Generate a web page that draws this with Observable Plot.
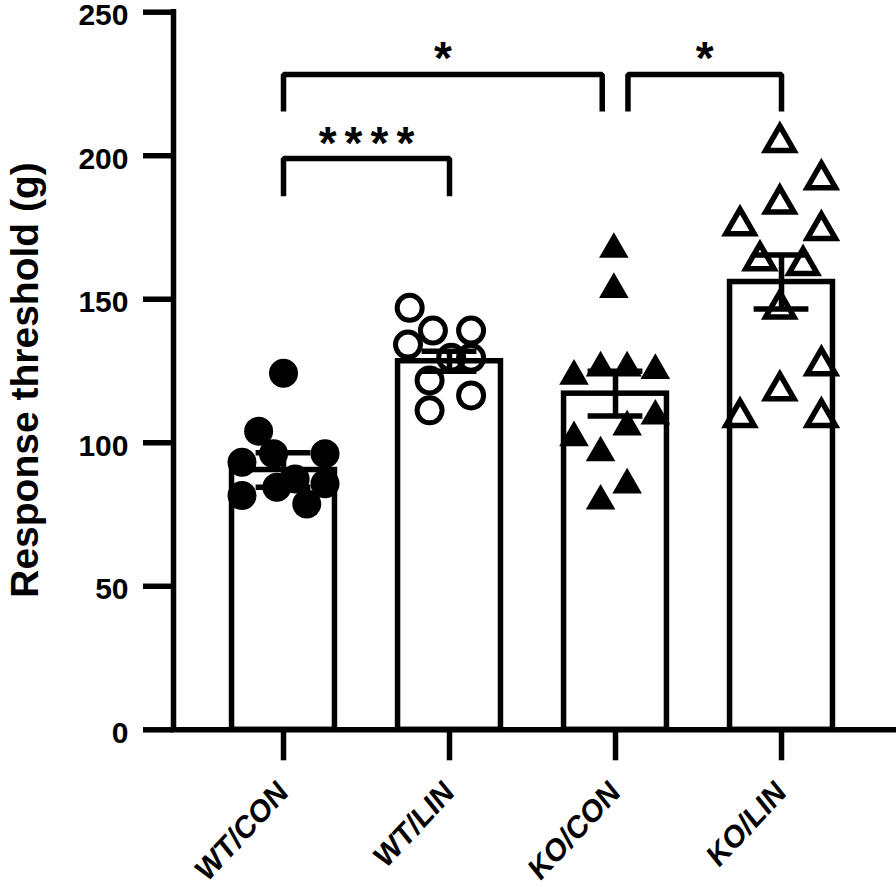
<!DOCTYPE html>
<html><head><meta charset="utf-8">
<script src="https://cdn.jsdelivr.net/npm/d3@7"></script>
<script src="https://cdn.jsdelivr.net/npm/@observablehq/plot@0.6"></script>
<style>
html,body{margin:0;padding:0;background:#fff;}
#chart svg{display:block;}
</style></head><body><div id="chart"></div>
<script>
// ---- data ----
const categories = ["WT/CON", "WT/LIN", "KO/CON", "KO/LIN"];
const means = [90.5, 128.4, 117.1, 156.0];
const sems  = [6.0, 3.5, 7.8, 9.4];
const yTicks = [0, 50, 100, 150, 200, 250];

const wtConValues = [124.2, 104.0, 93.2, 96.2, 96.2, 84.5, 81.6, 78.7, 85.7, 87.4];
const wtConJitter = [0, -0.15, -0.25, -0.06, 0.25, -0.04, -0.25, 0.14, 0.25, 0.07];
const wtLinValues = [147.0, 139.1, 139.1, 134.2, 129.6, 129.6, 121.7, 116.5, 111.3];
const wtLinJitter = [-0.24, -0.10, 0.13, -0.25, 0.01, 0.13, -0.12, 0.13, -0.12];
const koConValues = [167.4, 153.4, 123.2, 126.1, 126.1, 125.2, 109.3, 105.5, 101.8, 96.5, 85.3, 79.7];
const koConJitter = [-0.01, -0.01, -0.25, -0.09, 0.07, 0.24, 0.24, 0.07, -0.25, -0.09, 0.07, -0.09];
const koLinValues = [204.7, 191.7, 183.2, 175.7, 174.0, 163.5, 161.8, 146.7, 126.9, 118.2, 108.9, 108.9];
const koLinJitter = [-0.01, 0.24, -0.01, -0.25, 0.24, -0.13, 0.13, -0.01, 0.24, -0.01, -0.25, 0.24];

const bracketFrom  = [0, 2.075, 0];
const bracketTo    = [1.92, 3, 1];
const bracketTop   = [228.3, 228.3, 199.0];
const bracketLeg   = [215.4, 215.4, 185.9];
const bracketLabel = ["*", "*", "****"];

// ---- build tables ----
const idx = categories.map((_, i) => i);
const bars = idx.map(i => ({i, mean: means[i], sem: sems[i]}));
const mk = (i, vals, jit) => vals.map((v, k) => ({i, v, j: jit[k]}));
const ptsWtCon = mk(0, wtConValues, wtConJitter);
const ptsWtLin = mk(1, wtLinValues, wtLinJitter);
const ptsKoCon = mk(2, koConValues, koConJitter);
const ptsKoLin = mk(3, koLinValues, koLinJitter);
const brackets = bracketLabel.map((label, k) => ({k, from: bracketFrom[k], to: bracketTo[k], top: bracketTop[k], leg: bracketLeg[k], label}));
const bracketPath = brackets.flatMap(b => [
  {k: b.k, x: b.from, y: b.leg}, {k: b.k, x: b.from, y: b.top},
  {k: b.k, x: b.to, y: b.top}, {k: b.k, x: b.to, y: b.leg}
]);

const SW = 5.5;       // line weight
const HALF = 0.31;    // half bar width (category units)
const CAP = 0.165;    // half cap width
const xDomain = [-0.6627, 3.6867];

const chart = Plot.plot({
  width: 896, height: 887,
  marginLeft: 173, marginRight: 1, marginTop: 11.7, marginBottom: 157.7,
  style: {fontFamily: "'Liberation Sans', Arial, sans-serif", color: "black", background: "white", overflow: "visible"},
  x: {domain: xDomain, axis: null},
  y: {domain: [0, 250], axis: null},
  marks: [
    Plot.rectY(bars, {x1: d => d.i - HALF, x2: d => d.i + HALF, y: "mean", fill: "white", stroke: "black", strokeWidth: SW}),
    Plot.dot(ptsWtCon, {x: d => d.i + d.j, y: "v", r: 14.5, symbol: "circle", fill: "black", stroke: "none"}),
    Plot.dot(ptsWtLin, {x: d => d.i + d.j, y: "v", r: 12.5, symbol: "circle", fill: "none", stroke: "black", strokeWidth: 5}),
    Plot.dot(ptsKoCon, {x: d => d.i + d.j, y: "v", r: 11, symbol: "triangle", fill: "black", stroke: "none"}),
    Plot.dot(ptsKoLin, {x: d => d.i + d.j, y: "v", r: 10.5, symbol: "triangle", fill: "none", stroke: "black", strokeWidth: SW}),
    Plot.ruleX(bars, {x: "i", y1: d => d.mean - d.sem, y2: d => d.mean + d.sem, strokeWidth: SW}),
    Plot.ruleY(bars, {x1: d => d.i - CAP, x2: d => d.i + CAP, y: d => d.mean + d.sem, strokeWidth: SW}),
    Plot.ruleY(bars, {x1: d => d.i - CAP, x2: d => d.i + CAP, y: d => d.mean - d.sem, strokeWidth: SW}),
    Plot.line(bracketPath, {x: "x", y: "y", z: "k", stroke: "black", strokeWidth: SW, strokeLinejoin: "miter", strokeLinecap: "butt"}),
    Plot.text(brackets, {x: d => (d.from + d.to) / 2, y: "top", text: "label", lineAnchor: "bottom", fontSize: 46, fontWeight: "bold", fill: "black"}),
    Plot.ruleY([0], {strokeWidth: SW, strokeLinecap: "square"}),
    Plot.ruleX([xDomain[0]], {y1: 0, y2: 250, strokeWidth: SW, strokeLinecap: "square"}),
    Plot.axisY({ticks: yTicks, tickSize: 30, tickPadding: 15, fontSize: 30, fontWeight: "bold", strokeWidth: SW, label: null}),
    Plot.axisX({ticks: idx, tickFormat: i => categories[i], tickSize: 31, tickPadding: 26, tickRotate: -47, fontSize: 30, fontWeight: "bold", strokeWidth: SW, label: null}),
    Plot.text(["Response threshold (g)"], {text: d => d, frameAnchor: "left", rotate: -90, dx: -136, dy: 9, lineAnchor: "bottom", textAnchor: "middle", fontSize: 39, fontWeight: "bold", fill: "black"})
  ]
});
document.getElementById("chart").appendChild(chart);
const svg = d3.select(chart);
svg.selectAll("text").filter(function() { return this.textContent === "****"; })
  .style("letter-spacing", "8px").attr("dx", "4");
svg.selectAll('g[aria-label="y-axis tick label"] text').each(function() {
  const t = this.getAttribute("transform") || "";
  this.setAttribute("transform", t + " translate(0,3.5)");
});
svg.selectAll('g[aria-label="x-axis tick label"] text').each(function() {
  const t = this.getAttribute("transform") || "";
  this.setAttribute("transform", t + " skewX(-8)");
});
</script></body></html>
